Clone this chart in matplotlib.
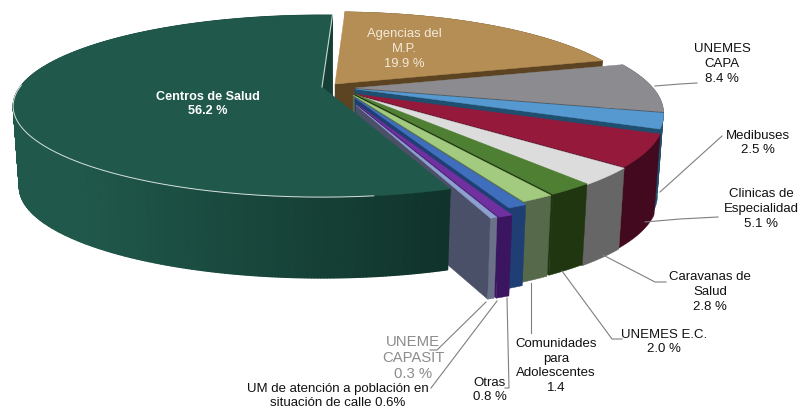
import numpy as np
import matplotlib
matplotlib.use('Agg')
import matplotlib.pyplot as plt
from matplotlib.patches import Polygon
from matplotlib.colors import LinearSegmentedColormap

plt.rcParams['font.family'] = ['Liberation Sans', 'DejaVu Sans']

# clockwise from the top, Centros de Salud last
categories = ['Agencias del M.P.', 'UNEMES CAPA', 'Medibuses', 'Clinicas de Especialidad',
              'Caravanas de Salud', 'UNEMES E.C.', 'Comunidades para Adolescentes',
              'Otras', 'UM situacion de calle', 'UNEME CAPASIT', 'Centros de Salud']
values = [19.9, 8.4, 2.5, 5.1, 2.8, 2.0, 1.4, 0.8, 0.6, 0.3, 56.2]

top_colors = ['#B48E55', '#8C8C90', '#5599D0', '#95193A', '#DCDCDC', '#4F7F33',
              '#A3CB80', '#3E6EBC', '#7030A0', '#8EA0D0', '#20584B']
wall_colors = ['#5C4321', '#404040', '#1F4E6F', '#43091E', '#666666', '#1F3610',
               '#56694A', '#1F3E73', '#3C1560', '#4A5068', '#20584B']

# exploded position of each slice tip, in pixels
apex_x = [335, 355, 355, 355, 355, 355, 353, 355, 358, 356, 322]
apex_y = [84, 88, 89, 94, 95, 94, 95, 98, 105, 105, 87]

start_angle = 2.4
depth = 81


def project(i, theta):
    # perspective view of the disc, the green slice sits a bit differently
    if i == 10:
        rx, ry, k = 302, 87, 0.21
    else:
        rx, ry, k = 298, 91, 0.26
    u = np.sin(np.radians(theta))
    v = -np.cos(np.radians(theta))
    w = 1 - k * v
    return apex_x[i] + rx * u / w, apex_y[i] + ry * v / w


def lower(i, x, y):
    return apex_x[i] + (x - apex_x[i]) * 0.98, y + depth


def fill(ax, pts, color):
    ax.add_patch(Polygon(pts, closed=True, facecolor=color, edgecolor=color, linewidth=0.3))


fig = plt.figure(figsize=(8.02, 4.12), dpi=100)
ax = fig.add_axes([0, 0, 1, 1])
ax.set_xlim(0, 802)
ax.set_ylim(412, 0)
ax.axis('off')

green_wall = LinearSegmentedColormap.from_list('green_wall', ['#20584B', '#10332B'])

edges = start_angle + np.cumsum([0] + values) * 3.6
for i in range(len(values)):
    t1, t2 = edges[i], edges[i + 1]
    th = np.linspace(t1, t2, max(int(t2 - t1) * 2, 4))
    xs, ys = project(i, th)
    bx, by = lower(i, xs, ys)
    ax_i, ay_i = apex_x[i], apex_y[i]

    if i == 10:
        # the start wall shows just right of the thin line
        fill(ax, [(xs[-1], ys[-1]), (bx[-1], by[-1]), (ax_i, ay_i + depth), (ax_i, ay_i)], top_colors[i])

    # radial wall on the closing edge of the slice
    if i < 10:
        fill(ax, [(ax_i, ay_i), (xs[-1], ys[-1]), (bx[-1], by[-1]), (ax_i, ay_i + depth)], wall_colors[i])

    # outer wall
    if i == 10:
        shade = np.clip((xs - 80) / 370, 0, 1)
        ax.pcolormesh(np.vstack([xs, bx]), np.vstack([ys, by]), np.vstack([shade, shade]),
                      shading='gouraud', cmap=green_wall, vmin=0, vmax=1, rasterized=True)
    else:
        wall = wall_colors[i] if i != 9 else '#6B7288'
        fill(ax, list(zip(xs, ys)) + list(zip(bx[::-1], by[::-1])), wall)

    top = [(ax_i, ay_i)] + list(zip(xs, ys))
    fill(ax, top, top_colors[i])

    if i == 10:
        rim = (th > 172) & (th < 272)
        ax.plot(xs[rim], ys[rim], color='#D8E2DE', lw=0.7, solid_capstyle='butt')
        ax.plot([ax_i, xs[-1]], [ay_i, ys[-1]], color='#C8D8D2', lw=0.8)

# leader lines
lead_color = '#7F7F7F'
leaders = [
    ([655, 680, 697], [86, 84, 83]),
    ([660, 722], [192, 136]),
    ([645, 680, 718], [222, 219, 217]),
    ([603, 655, 666], [255, 282, 282]),
    ([562, 612, 622], [271, 339, 339]),
    ([531, 531], [283, 333]),
    ([507, 509, 505], [298, 388, 388]),
    ([497, 431], [301, 388]),
    ([486, 437, 430], [302, 350, 350]),
]
for lx, ly in leaders:
    ax.plot(lx, ly, color=lead_color, lw=0.8)

label_size = 9.5
spacing = 1.28
ax.text(208, 104, 'Centros de Salud\n56.2 %', color='white', fontweight='bold', fontsize=9.1,
        ha='center', va='center', linespacing=1.3)
ax.text(404, 49, 'Agencias del\nM.P.\n19.9 %', color='#F3EADB', fontsize=9.4,
        ha='center', va='center', linespacing=1.3)
ax.text(722, 64, 'UNEMES\nCAPA\n8.4 %', color='#111111', fontsize=label_size, ha='center', va='center', linespacing=spacing)
ax.text(758, 143, 'Medibuses\n2.5 %', color='#111111', fontsize=label_size, ha='center', va='center', linespacing=spacing)
ax.text(761, 209, 'Clinicas de\nEspecialidad\n5.1 %', color='#111111', fontsize=label_size,
        ha='center', va='center', linespacing=spacing)
ax.text(710, 292, 'Caravanas de\nSalud\n2.8 %', color='#111111', fontsize=label_size,
        ha='center', va='center', linespacing=spacing)
ax.text(664, 342, 'UNEMES E.C.\n2.0 %', color='#111111', fontsize=label_size, ha='center', va='center', linespacing=spacing)
ax.text(556, 366, 'Comunidades\npara\nAdolescentes\n1.4', color='#111111', fontsize=label_size,
        ha='center', va='center', linespacing=spacing)
ax.text(490, 390, 'Otras\n0.8 %', color='#111111', fontsize=label_size, ha='center', va='center', linespacing=spacing)
ax.text(338, 396, 'UM de atención a población en\nsituación de calle 0.6%', color='#111111', fontsize=label_size,
        ha='center', va='center', linespacing=spacing)
ax.text(413, 358, 'UNEME\nCAPASIT\n0.3 %', color='#8C8C8C', fontsize=10.7, ha='center', va='center', linespacing=1.15)

fig.savefig('out.png', dpi=100)
